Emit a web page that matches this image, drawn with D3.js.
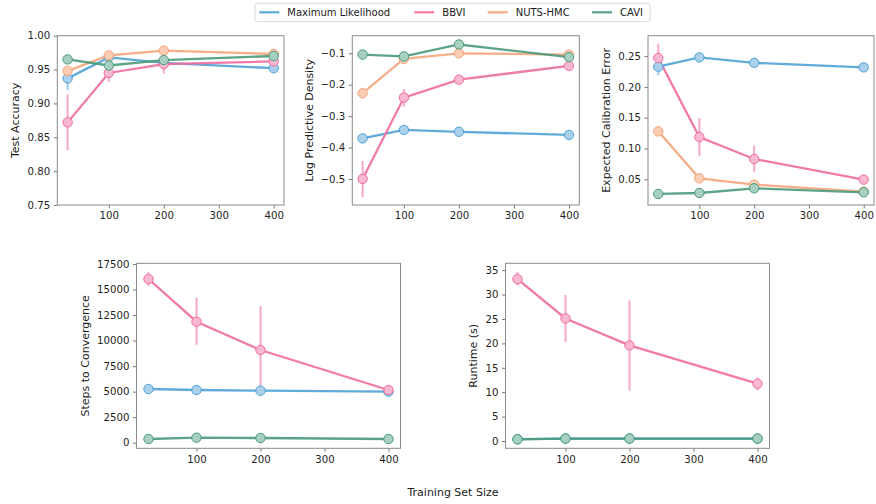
<!DOCTYPE html>
<html><head><meta charset="utf-8">
<script src="https://cdn.jsdelivr.net/npm/d3@7/dist/d3.min.js"></script>
<style>
html,body{margin:0;padding:0;background:#fff;}
svg{display:block;font-family:"DejaVu Sans",sans-serif;}
</style></head>
<body><svg id="chart" width="876" height="504"></svg>
<script>
// ---------------- DATA ----------------
const trainingSizes = [25, 100, 200, 400];
const methods = ["Maximum Likelihood", "BBVI", "NUTS-HMC", "CAVI"];
const xTicks = [100, 200, 300, 400];

// Test accuracy: mean and [low, high] error bars
const accML    = [0.937, 0.968, 0.960, 0.952];
const accMLErr = [[0.920, 0.952], [0.962, 0.974], [0.955, 0.965], [0.948, 0.956]];
const accBBVI    = [0.872, 0.945, 0.958, 0.962];
const accBBVIErr = [[0.831, 0.913], [0.932, 0.958], [0.944, 0.970], [0.957, 0.967]];
const accNUTS    = [0.948, 0.971, 0.978, 0.973];
const accNUTSErr = [[0.944, 0.952], [0.968, 0.974], [0.975, 0.981], [0.970, 0.976]];
const accCAVI    = [0.965, 0.956, 0.964, 0.970];
const accCAVIErr = [[0.962, 0.968], [0.953, 0.959], [0.961, 0.967], [0.967, 0.973]];

// Log predictive density
const lpdML    = [-0.371, -0.344, -0.350, -0.360];
const lpdMLErr = [[-0.376, -0.366], [-0.349, -0.339], [-0.355, -0.345], [-0.365, -0.355]];
const lpdBBVI    = [-0.500, -0.241, -0.184, -0.140];
const lpdBBVIErr = [[-0.558, -0.443], [-0.270, -0.214], [-0.197, -0.171], [-0.150, -0.131]];
const lpdNUTS    = [-0.227, -0.118, -0.100, -0.104];
const lpdNUTSErr = [[-0.232, -0.222], [-0.123, -0.113], [-0.104, -0.096], [-0.108, -0.100]];
const lpdCAVI    = [-0.104, -0.110, -0.072, -0.112];
const lpdCAVIErr = [[-0.108, -0.100], [-0.114, -0.106], [-0.076, -0.068], [-0.116, -0.108]];

// Expected calibration error
const eceML    = [0.2327, 0.2478, 0.2390, 0.2316];
const eceMLErr = [[0.219, 0.241], [0.243, 0.252], [0.235, 0.243], [0.229, 0.234]];
const eceBBVI    = [0.2468, 0.1186, 0.0830, 0.0495];
const eceBBVIErr = [[0.232, 0.270], [0.088, 0.149], [0.0624, 0.105], [0.046, 0.053]];
const eceNUTS    = [0.1278, 0.0516, 0.0414, 0.0300];
const eceNUTSErr = [[0.120, 0.137], [0.049, 0.054], [0.039, 0.044], [0.028, 0.032]];
const eceCAVI    = [0.0262, 0.0278, 0.0354, 0.0289];
const eceCAVIErr = [[0.025, 0.028], [0.026, 0.030], [0.033, 0.038], [0.027, 0.031]];

// Steps to convergence (NUTS-HMC not reported)
const stepsML    = [5256, 5158, 5093, 4995];
const stepsMLErr = [[5150, 5360], [5060, 5260], [4990, 5190], [4900, 5090]];
const stepsBBVI    = [16031, 11851, 9076, 5160];
const stepsBBVIErr = [[15345, 16750], [9566, 14200], [5160, 13386], [4750, 5600]];
const stepsCAVI    = [360, 490, 457, 360];
const stepsCAVIErr = [[300, 420], [420, 560], [390, 520], [300, 420]];

// Runtime in seconds (NUTS-HMC not reported)
const rtML    = [0.36, 0.50, 0.50, 0.48];
const rtMLErr = [[0.30, 0.42], [0.44, 0.56], [0.44, 0.56], [0.42, 0.54]];
const rtBBVI    = [33.16, 25.1, 19.58, 11.73];
const rtBBVIErr = [[31.8, 34.6], [20.3, 29.9], [10.3, 28.8], [10.4, 13.0]];
const rtCAVI    = [0.34, 0.48, 0.48, 0.48];
const rtCAVIErr = [[0.28, 0.40], [0.42, 0.54], [0.42, 0.54], [0.42, 0.54]];

const accTicks   = [0.75, 0.80, 0.85, 0.90, 0.95, 1.00];
const lpdTicks   = [-0.5, -0.4, -0.3, -0.2, -0.1];
const eceTicks   = [0.05, 0.10, 0.15, 0.20, 0.25];
const stepsTicks = [0, 2500, 5000, 7500, 10000, 12500, 15000, 17500];
const rtTicks    = [0, 5, 10, 15, 20, 25, 30, 35];

// ---------------- STYLE ----------------
const lineColor = {"Maximum Likelihood": "#4fa2d6", "BBVI": "#f06c9e", "NUTS-HMC": "#f4a57c", "CAVI": "#4a9a7a"};
const fillColor = {"Maximum Likelihood": "#a9d1ec", "BBVI": "#f9b8d1", "NUTS-HMC": "#fbcdb2", "CAVI": "#a8d0c0"};
const errColor  = {"Maximum Likelihood": "#8cc3e6", "BBVI": "#f59ebf", "NUTS-HMC": "#f8c2a4", "CAVI": "#8cbfaa"};

const panels = [
  {label: "Test Accuracy", box: [57.3, 284, 35.7, 205], domain: [0.75, 1.0], ticks: accTicks, fmt: d3.format(".2f"),
   series: {"Maximum Likelihood": [accML, accMLErr], "BBVI": [accBBVI, accBBVIErr], "NUTS-HMC": [accNUTS, accNUTSErr], "CAVI": [accCAVI, accCAVIErr]}, labelX: 15},
  {label: "Log Predictive Density", box: [352.3, 579.3, 35.7, 205], domain: [-0.583, -0.044], ticks: lpdTicks, fmt: d3.format(".1f"),
   series: {"Maximum Likelihood": [lpdML, lpdMLErr], "BBVI": [lpdBBVI, lpdBBVIErr], "NUTS-HMC": [lpdNUTS, lpdNUTSErr], "CAVI": [lpdCAVI, lpdCAVIErr]}, labelX: 309},
  {label: "Expected Calibration Error", box: [648, 874, 35.7, 205], domain: [0.0083, 0.283], ticks: eceTicks, fmt: d3.format(".2f"),
   series: {"Maximum Likelihood": [eceML, eceMLErr], "BBVI": [eceBBVI, eceBBVIErr], "NUTS-HMC": [eceNUTS, eceNUTSErr], "CAVI": [eceCAVI, eceCAVIErr]}, labelX: 606},
  {label: "Steps to Convergence", box: [136.5, 400.5, 263.3, 448.3], domain: [-550, 17570], ticks: stepsTicks, fmt: d3.format("d"),
   series: {"Maximum Likelihood": [stepsML, stepsMLErr], "BBVI": [stepsBBVI, stepsBBVIErr], "CAVI": [stepsCAVI, stepsCAVIErr]}, labelX: 85},
  {label: "Runtime (s)", box: [505.5, 769.5, 263.3, 448.3], domain: [-1.5, 36.4], ticks: rtTicks, fmt: d3.format("d"),
   series: {"Maximum Likelihood": [rtML, rtMLErr], "BBVI": [rtBBVI, rtBBVIErr], "CAVI": [rtCAVI, rtCAVIErr]}, labelX: 473}
];

const svg = d3.select("#chart");
const spine = "#8a8a8a", tickText = "#1f1f1f";

panels.forEach(p => {
  const [l, r, t, b] = p.box;
  const x = d3.scaleLinear().domain([6.25, 418.75]).range([l, r]);
  const y = d3.scaleLinear().domain(p.domain).range([b, t]);
  const g = svg.append("g");

  const ax = g.append("g").attr("transform", `translate(0,${b})`)
    .call(d3.axisBottom(x).tickValues(xTicks).tickSize(3.5).tickPadding(3.5).tickFormat(d3.format("d")));
  const ay = g.append("g").attr("transform", `translate(${l},0)`)
    .call(d3.axisLeft(y).tickValues(p.ticks).tickSize(3.5).tickPadding(3.5).tickFormat(p.fmt));
  [ax, ay].forEach(a => {
    a.select(".domain").remove();
    a.selectAll(".tick line").attr("stroke", "#555").attr("stroke-width", 0.8);
    a.selectAll(".tick text").attr("fill", tickText).attr("font-size", 10.2).attr("font-family", "DejaVu Sans");
  });

  const clip = "clip" + Math.round(l);
  g.append("clipPath").attr("id", clip).append("rect").attr("x", l).attr("y", t).attr("width", r - l).attr("height", b - t);
  const plot = g.append("g").attr("clip-path", `url(#${clip})`);

  Object.entries(p.series).forEach(([name, [vals, errs]]) => {
    const pts = trainingSizes.map((s, i) => ({s, v: vals[i], e: errs[i]}));
    plot.selectAll(null).data(pts).enter().append("line")
      .attr("x1", d => x(d.s)).attr("x2", d => x(d.s))
      .attr("y1", d => y(d.e[0])).attr("y2", d => y(d.e[1]))
      .attr("stroke", errColor[name]).attr("stroke-width", 2).attr("stroke-opacity", 0.9);
    plot.append("path").datum(pts)
      .attr("d", d3.line().x(d => x(d.s)).y(d => y(d.v)))
      .attr("fill", "none").attr("stroke", lineColor[name]).attr("stroke-width", 2.3).attr("stroke-opacity", 0.9);
  });
  Object.entries(p.series).forEach(([name, [vals]]) => {
    const pts = trainingSizes.map((s, i) => ({s, v: vals[i]}));
    plot.selectAll(null).data(pts).enter().append("circle")
      .attr("cx", d => x(d.s)).attr("cy", d => y(d.v)).attr("r", 4.7)
      .attr("fill", fillColor[name]).attr("stroke", lineColor[name]).attr("stroke-width", 1);
  });

  g.append("rect").attr("x", l).attr("y", t).attr("width", r - l).attr("height", b - t)
    .attr("fill", "none").attr("stroke", spine).attr("stroke-width", 1);

  g.append("text").attr("transform", `translate(${p.labelX},${(t + b) / 2}) rotate(-90)`)
    .attr("text-anchor", "middle").attr("dominant-baseline", "central")
    .attr("font-size", 11).attr("fill", "#1a1a1a").text(p.label);
});

svg.append("text").attr("x", 453).attr("y", 496).attr("text-anchor", "middle")
  .attr("font-size", 11).attr("fill", "#1a1a1a").text("Training Set Size");

// legend
const leg = svg.append("g");
leg.append("rect").attr("x", 255).attr("y", 3.3).attr("width", 395).attr("height", 18.4).attr("rx", 2.5)
  .attr("fill", "#fff").attr("stroke", "#d0d0d0").attr("stroke-width", 0.8);
const legTextX = [287.3, 442.3, 515.7, 620];
methods.forEach((m, i) => {
  leg.append("line").attr("x1", legTextX[i] - 28).attr("x2", legTextX[i] - 8).attr("y1", 12.3).attr("y2", 12.3)
    .attr("stroke", lineColor[m]).attr("stroke-width", 2.3).attr("stroke-opacity", 0.9);
  leg.append("text").attr("x", legTextX[i]).attr("y", 12.3).attr("dominant-baseline", "central")
    .attr("font-size", 10).attr("fill", "#1a1a1a").text(m);
});
</script></body></html>
